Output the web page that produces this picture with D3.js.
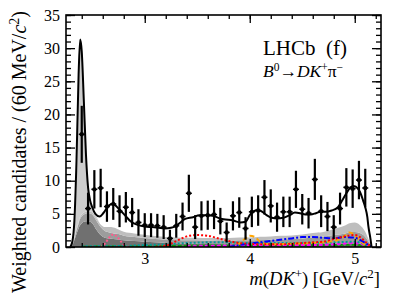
<!DOCTYPE html>
<html>
<head>
<meta charset="utf-8">
<script src="https://cdn.jsdelivr.net/npm/d3@7"></script>
<style>
  html, body { margin: 0; padding: 0; background: #fff; }
  svg { display: block; }
  text { font-family: "Liberation Serif", "DejaVu Serif", serif; fill: #000; }
</style>
</head>
<body>
<svg id="chart" width="410" height="294"></svg>
<script>
// binned data (weighted candidates per 60 MeV)
const binCentres = [2.40, 2.46, 2.52, 2.58, 2.64, 2.70, 2.76, 2.82, 2.88, 2.94,
  3.00, 3.06, 3.12, 3.18, 3.24, 3.30, 3.36, 3.42, 3.48, 3.54,
  3.60, 3.66, 3.72, 3.78, 3.84, 3.90, 3.96, 4.02, 4.08, 4.14,
  4.20, 4.26, 4.32, 4.38, 4.44, 4.50, 4.56, 4.62, 4.68, 4.74,
  4.80, 4.86, 4.92, 4.98, 5.04, 5.10];
const binValues = [17.0, 5.8, 8.7, 8.9, 6.1, 6.5, 5.4, 6.0, 5.2, 3.7,
  3.3, 3.3, 3.2, 3.0, 1.3, 3.2, 4.6, 8.1, 3.0, 4.7,
  4.8, 4.9, 3.9, 2.2, 4.7, 5.2, 2.8, 5.3, 5.5, 7.5,
  6.2, 4.5, 5.3, 5.3, 8.7, 5.7, 5.1, 10.2, 5.4, 4.6,
  3.0, 5.8, 9.0, 8.8, 10.1, 8.9];
const binErrors = [4.3, 2.4, 2.9, 2.9, 2.3, 2.4, 2.4, 2.3, 2.2, 2.0,
  1.8, 1.8, 1.8, 1.8, 1.3, 1.8, 2.1, 2.8, 1.8, 2.2,
  2.2, 2.2, 2.0, 1.5, 2.2, 2.3, 1.7, 2.3, 2.3, 2.6,
  2.5, 2.2, 2.3, 2.3, 2.8, 2.3, 2.3, 3.1, 2.4, 2.2,
  1.8, 2.4, 2.9, 2.9, 2.9, 2.9];

// total fit
const fitMass = [2.29, 2.31, 2.33, 2.35, 2.37, 2.385, 2.40, 2.42, 2.44, 2.46, 2.48, 2.50,
  2.53, 2.57, 2.61, 2.66, 2.70, 2.75, 2.81, 2.87, 2.94, 3.00, 3.07, 3.13, 3.19, 3.25,
  3.29, 3.34, 3.38, 3.46, 3.52, 3.60, 3.65, 3.70, 3.75, 3.84, 3.91, 3.96, 4.00, 4.04,
  4.08, 4.12, 4.16, 4.21, 4.26, 4.32, 4.38, 4.43, 4.48, 4.53, 4.58, 4.63, 4.67, 4.72,
  4.78, 4.84, 4.88, 4.92, 4.96, 4.99, 5.03, 5.05, 5.08, 5.10, 5.12, 5.13, 5.15, 5.16];
const fitValue = [0, 0.8, 4, 13, 26, 31.3, 29.5, 22, 14, 9, 7, 6.0,
  5.0, 4.6, 5.2, 6.3, 6.5, 5.8, 4.8, 3.8, 3.3, 3.1, 3.0, 2.9, 2.8, 2.9,
  3.1, 3.7, 4.2, 4.5, 4.8, 4.8, 4.7, 4.4, 4.2, 4.0, 3.7, 3.8, 4.8, 5.4,
  5.6, 5.3, 4.8, 4.4, 4.3, 4.4, 4.8, 5.2, 5.1, 4.9, 4.9, 5.1, 5.3, 5.3,
  5.5, 6.0, 7.0, 8.1, 9.0, 9.2, 8.8, 8.3, 7.0, 6.0, 4.5, 3.1, 1.2, 0];

// stacked grey components
const compMass = [2.30, 2.32, 2.34, 2.36, 2.37, 2.38, 2.385, 2.39, 2.40, 2.42, 2.44, 2.46,
  2.48, 2.50, 2.54, 2.58, 2.62, 2.66, 2.70, 2.75, 2.80, 2.90, 3.00, 3.10, 3.20, 3.30,
  3.40, 3.50, 3.60, 3.70, 3.80, 3.90, 4.00, 4.10, 4.20, 4.30, 4.40, 4.50, 4.60, 4.70,
  4.80, 4.90, 4.95, 5.00, 5.05, 5.10, 5.12, 5.14, 5.16];
const compDark = [0, 0.6, 1.5, 2.4, 2.8, 3.2, 3.3, 3.4, 3.6, 3.8, 3.9, 3.9,
  3.8, 3.6, 2.6, 1.8, 1.4, 1.3, 1.2, 1.15, 1.0, 0.9, 0.8, 0.7, 0.6, 0.55,
  0.5, 0.5, 0.45, 0.45, 0.4, 0.4, 0.4, 0.4, 0.4, 0.4, 0.4, 0.4, 0.45, 0.45,
  0.5, 0.5, 0.5, 0.5, 0.5, 0.4, 0.3, 0.15, 0];
const compMid = [0, 0.15, 0.4, 0.6, 0.75, 0.9, 0.95, 1.0, 1.05, 1.1, 1.15, 1.2,
  1.25, 1.3, 1.35, 1.2, 1.0, 0.9, 0.85, 0.8, 0.7, 0.6, 0.55, 0.5, 0.5, 0.5,
  0.5, 0.5, 0.5, 0.55, 0.55, 0.6, 0.6, 0.65, 0.7, 0.75, 0.8, 0.9, 1.0, 1.1,
  1.3, 1.5, 1.7, 1.75, 1.6, 1.1, 0.8, 0.4, 0];
const compLight = [0, 0.1, 0.2, 0.25, 0.25, 0.3, 0.3, 0.3, 0.3, 0.3, 0.3, 0.3,
  0.3, 0.3, 0.35, 0.4, 0.6, 0.8, 0.9, 0.7, 0.6, 0.55, 0.5, 0.45, 0.4, 0.4,
  0.4, 0.4, 0.4, 0.4, 0.4, 0.45, 0.45, 0.5, 0.5, 0.55, 0.55, 0.6, 0.65, 0.7,
  0.9, 1.2, 1.4, 1.45, 1.2, 0.8, 0.5, 0.25, 0];
const compSignal = [0, 0.5, 3, 11, 18, 24.5, 26.8, 26.3, 24.5, 17, 9, 4.5,
  2.0, 0.9, 0.3, 0, 0, 0, 0, 0, 0, 0, 0, 0, 0, 0,
  0, 0, 0, 0, 0, 0, 0, 0, 0, 0, 0, 0, 0, 0,
  0, 0, 0, 0, 0, 0, 0, 0, 0];
const compNames = ["dark", "mid", "light", "signal"];
const compColours = ["#707070", "#9c9c9c", "#bebebe", "#cdcdcd"];

// small coloured components
const pinkMass = [2.58, 2.62, 2.66, 2.70, 2.74, 2.78, 2.82, 2.86];
const pinkValue = [0, 0.5, 1.4, 1.9, 1.5, 0.7, 0.1, 0];
const redMass = [3.10, 3.20, 3.30, 3.40, 3.50, 3.60, 3.70, 3.80, 3.90, 4.00, 4.10, 4.20, 4.30,
  4.40, 4.50, 4.60, 4.70, 4.80, 4.90, 5.00, 5.05, 5.10, 5.16];
const redValue = [0, 0.2, 0.9, 1.6, 1.8, 1.7, 1.3, 0.9, 0.6, 0.5, 0.4, 0.4, 0.4,
  0.5, 0.6, 0.7, 0.8, 1.2, 1.6, 1.8, 1.5, 0.8, 0];
const blueMass = [3.80, 3.90, 4.00, 4.20, 4.40, 4.50, 4.60, 4.70, 4.80, 4.90, 5.00, 5.10, 5.16];
const blueValue = [0, 0.3, 0.5, 0.9, 1.3, 1.5, 1.5, 1.4, 1.3, 1.5, 1.4, 0.6, 0];
const orangeMass = [3.80, 3.90, 3.96, 4.00, 4.05, 4.10, 4.20, 4.40, 4.60, 4.80, 4.90, 4.95, 5.00, 5.05, 5.10, 5.16];
const orangeValue = [0, 0.5, 1.3, 1.7, 1.5, 0.8, 0.4, 0.5, 0.6, 0.9, 1.6, 2.2, 1.8, 1.0, 0.3, 0];
const tealMass = [2.40, 2.80, 3.00, 3.20, 3.40, 3.60, 3.80, 4.00, 4.40, 4.80, 5.00, 5.10, 5.16];
const tealValue = [0.1, 0.15, 0.3, 0.4, 0.6, 0.7, 0.7, 0.6, 0.6, 0.7, 0.8, 0.4, 0];
const magentaMass = [3.40, 3.80, 4.20, 4.60, 4.80, 5.00, 5.10, 5.16];
const magentaValue = [0.1, 0.2, 0.3, 0.3, 0.4, 0.6, 0.3, 0];
const greenMass = [2.40, 3.00, 3.60, 4.20, 4.80, 5.00, 5.16];
const greenValue = [0.05, 0.1, 0.2, 0.25, 0.3, 0.35, 0];

const xTicks = [3, 4, 5];
const yTicks = [0, 5, 10, 15, 20, 25, 30, 35];

const margin = { left: 66, top: 15, right: 29, bottom: 47 };
const W = 410, H = 294;
const iw = W - margin.left - margin.right;
const ih = H - margin.top - margin.bottom;

const svg = d3.select("#chart");
const x = d3.scaleLinear().domain([2.25, 5.25]).range([0, iw]);
const y = d3.scaleLinear().domain([0, 35]).range([ih, 0]);

const g = svg.append("g").attr("transform", `translate(${margin.left},${margin.top})`);

g.append("clipPath").attr("id", "clip")
  .append("rect").attr("width", iw).attr("height", ih);
const plot = g.append("g").attr("clip-path", "url(#clip)");

// grey stacked areas
const rows = compMass.map((m, i) => ({
  m: m, dark: compDark[i], mid: compMid[i], light: compLight[i], signal: compSignal[i]
}));
const stacked = d3.stack().keys(compNames)(rows);
const area = d3.area()
  .x(d => x(d.data.m))
  .y0(d => y(d[0]))
  .y1(d => y(d[1]))
  .curve(d3.curveMonotoneX);
plot.selectAll("path.comp")
  .data(stacked)
  .enter().append("path")
  .attr("class", "comp")
  .attr("d", area)
  .attr("fill", (d, i) => compColours[i]);

// coloured lines
const lineGen = d3.line().x(d => x(d[0])).y(d => y(d[1])).curve(d3.curveMonotoneX);
const colourLines = [
  { m: greenMass, v: greenValue, c: "#00a000", dash: "4,2" },
  { m: magentaMass, v: magentaValue, c: "#ff00ff", dash: "4,2" },
  { m: tealMass, v: tealValue, c: "#009a9a", dash: "2,2" },
  { m: orangeMass, v: orangeValue, c: "#ffa500", dash: "5,3" },
  { m: blueMass, v: blueValue, c: "#0000ff", dash: "6,2,2,2" },
  { m: redMass, v: redValue, c: "#ff0000", dash: "2,2" },
  { m: pinkMass, v: pinkValue, c: "#ff5a8c", dash: "2,2" }
];
colourLines.forEach(l => {
  plot.append("path")
    .datum(l.m.map((m, i) => [m, l.v[i]]))
    .attr("d", lineGen)
    .attr("fill", "none")
    .attr("stroke", l.c)
    .attr("stroke-width", 2)
    .attr("stroke-dasharray", l.dash);
});

// total fit
plot.append("path")
  .datum(fitMass.map((m, i) => [m, fitValue[i]]))
  .attr("d", lineGen)
  .attr("fill", "none")
  .attr("stroke", "#000")
  .attr("stroke-width", 2);

// data points
const pts = g.append("g").selectAll("g")
  .data(binCentres.map((m, i) => ({ m: m, v: binValues[i], e: binErrors[i] })))
  .enter().append("g");
pts.append("line")
  .attr("x1", d => x(d.m)).attr("x2", d => x(d.m))
  .attr("y1", d => y(d.v - d.e)).attr("y2", d => y(d.v + d.e))
  .attr("stroke", "#000").attr("stroke-width", 2.2);
pts.append("line")
  .attr("x1", d => x(d.m) - 3).attr("x2", d => x(d.m) + 3)
  .attr("y1", d => y(d.v)).attr("y2", d => y(d.v))
  .attr("stroke", "#000").attr("stroke-width", 1.5);
pts.append("circle")
  .attr("cx", d => x(d.m)).attr("cy", d => y(d.v)).attr("r", 2.2)
  .attr("fill", "#000");

// axes: ticks inside the frame, on all four sides
const minorX = d3.range(12, 27).map(i => i / 5);
const minorY = d3.range(0, 36);
function styleAxis(sel) {
  sel.select(".domain").remove();
  sel.selectAll("line").attr("stroke", "#000").attr("stroke-width", 1.3);
  sel.selectAll("text").style("font-family", '"Liberation Serif", serif').style("font-size", "16px");
}
g.append("g").attr("transform", `translate(0,${ih})`)
  .call(d3.axisBottom(x).tickValues(minorX).tickSize(-4).tickFormat(""))
  .call(styleAxis);
g.append("g").attr("transform", `translate(0,${ih})`)
  .call(d3.axisBottom(x).tickValues(xTicks).tickSize(-8).tickPadding(6).tickFormat(d3.format("d")))
  .call(styleAxis);
g.append("g")
  .call(d3.axisTop(x).tickValues(minorX).tickSize(-4).tickFormat(""))
  .call(styleAxis);
g.append("g")
  .call(d3.axisTop(x).tickValues(xTicks).tickSize(-8).tickFormat(""))
  .call(styleAxis);
g.append("g")
  .call(d3.axisLeft(y).tickValues(minorY).tickSize(-5).tickFormat(""))
  .call(styleAxis);
g.append("g")
  .call(d3.axisLeft(y).tickValues(yTicks).tickSize(-9).tickPadding(6).tickFormat(d3.format("d")))
  .call(styleAxis);
g.append("g").attr("transform", `translate(${iw},0)`)
  .call(d3.axisRight(y).tickValues(minorY).tickSize(-5).tickFormat(""))
  .call(styleAxis);
g.append("g").attr("transform", `translate(${iw},0)`)
  .call(d3.axisRight(y).tickValues(yTicks).tickSize(-9).tickFormat(""))
  .call(styleAxis);

g.append("rect")
  .attr("width", iw).attr("height", ih)
  .attr("fill", "none").attr("stroke", "#000").attr("stroke-width", 1.6);

// labels
const yLab = svg.append("text")
  .attr("transform", "translate(26,11) rotate(-90)")
  .attr("text-anchor", "end")
  .style("font-size", "20px");
yLab.append("tspan").text("Weighted candidates / (60 MeV/");
yLab.append("tspan").style("font-style", "italic").text("c");
yLab.append("tspan").attr("dy", -7).style("font-size", "14px").text("2");
yLab.append("tspan").attr("dy", 7).text(")");

const xLab = svg.append("text")
  .attr("x", 380).attr("y", 285)
  .attr("text-anchor", "end")
  .style("font-size", "18.5px");
xLab.append("tspan").style("font-style", "italic").text("m");
xLab.append("tspan").text("(");
xLab.append("tspan").style("font-style", "italic").text("DK");
xLab.append("tspan").attr("dy", -7).style("font-size", "13px").text("+");
xLab.append("tspan").attr("dy", 7).text(") [GeV/");
xLab.append("tspan").style("font-style", "italic").text("c");
xLab.append("tspan").attr("dy", -7).style("font-size", "13px").text("2");
xLab.append("tspan").attr("dy", 7).text("]");

svg.append("text")
  .attr("x", 263).attr("y", 55)
  .style("font-size", "21px")
  .attr("xml:space", "preserve")
  .text("LHCb  (f)");

const decay = svg.append("text")
  .attr("x", 263).attr("y", 77)
  .style("font-size", "17.5px");
decay.append("tspan").style("font-style", "italic").text("B");
decay.append("tspan").attr("dy", -6).style("font-size", "11.5px").text("0");
decay.append("tspan").attr("dy", 6).text("\u2192");
decay.append("tspan").style("font-style", "italic").text("DK");
decay.append("tspan").attr("dy", -6).style("font-size", "11.5px").text("+");
decay.append("tspan").attr("dy", 6).text("\u03c0");
decay.append("tspan").attr("dy", -6).style("font-size", "11.5px").text("\u2212");
</script>
</body>
</html>
